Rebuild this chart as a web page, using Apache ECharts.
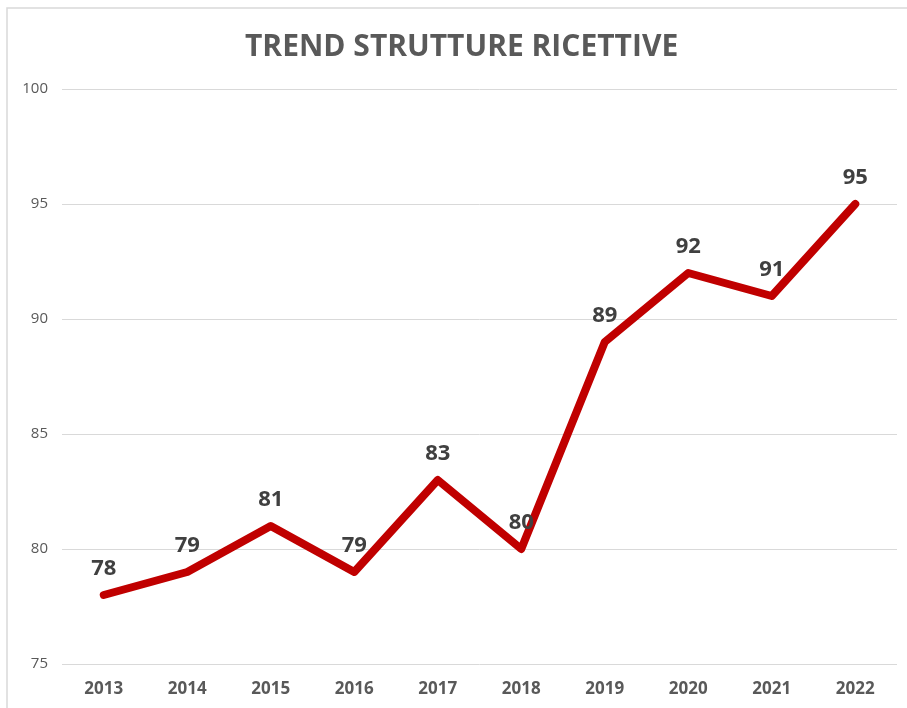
<!DOCTYPE html>
<html><head><meta charset="utf-8">
<script src="https://cdn.jsdelivr.net/npm/echarts@6/dist/echarts.min.js"></script>
<style>html,body{margin:0;padding:0;background:#fff;}#c{width:907px;height:708px;}</style>
</head><body><div id="c"></div>
<script>
const titleText = "TREND STRUTTURE RICETTIVE";
const years = ["2013","2014","2015","2016","2017","2018","2019","2020","2021","2022"];
const values = [78, 79, 81, 79, 83, 80, 89, 92, 91, 95];
const chart = echarts.init(document.getElementById('c'), null, {renderer:'canvas'});
const font = "'Open Sans', 'Liberation Sans', sans-serif";
chart.setOption({
  animation: false,
  backgroundColor: '#fff',
  title: {
    text: titleText, left: 240, top: 27,
    textStyle: {fontFamily: font, fontSize: 30, fontWeight: 'bold', color: '#595959'}
  },
  graphic: [{type:'rect', shape:{x:7, y:8, width:1000, height:1000}, style:{fill:'none', stroke:'#d9d9d9', lineWidth:1.5}, z:-1}],
  grid: {left: 62, right: 10, top: 89, bottom: 44, containLabel: false},
  xAxis: {
    type: 'category', data: years, boundaryGap: true,
    axisLine: {show: false}, axisTick: {show: false},
    axisLabel: {fontFamily: font, fontSize: 17, fontWeight: 'bold', color: '#595959', margin: 17}
  },
  yAxis: {
    type: 'value', min: 75, max: 100, interval: 5,
    axisLine: {show: false}, axisTick: {show: false},
    splitLine: {lineStyle: {color: '#d9d9d9', width: 1}},
    axisLabel: {fontFamily: font, fontSize: 15, color: '#595959', margin: 14}
  },
  series: [{
    type: 'line', data: values, symbol: 'circle', symbolSize: 2, showSymbol: true,
    itemStyle: {color: '#c00000'},
    lineStyle: {color: '#c00000', width: 8, cap: 'round', join: 'round'},
    label: {show: true, position: 'top', distance: 14, fontFamily: font, fontSize: 22, fontWeight: 'bold', color: '#404040'}
  }]
});
</script></body></html>
